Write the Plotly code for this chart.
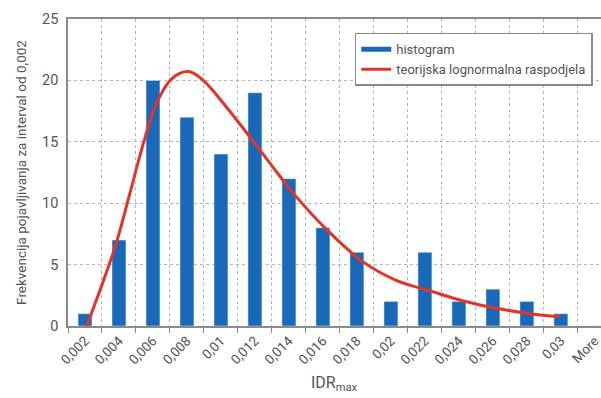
import plotly.graph_objects as go

categories = ["0,002", "0,004", "0,006", "0,008", "0,01", "0,012", "0,014", "0,016",
              "0,018", "0,02", "0,022", "0,024", "0,026", "0,028", "0,03", "More"]
frequencies = [1, 7, 20, 17, 14, 19, 12, 8, 6, 2, 6, 2, 3, 2, 1, 0]

# theoretical lognormal curve (x in category index units)
curve_x = [0.05, 0.88, 1.32, 1.71, 2.1, 2.5, 2.8, 3.09, 3.48, 4.17, 4.85, 5.54,
           6.13, 7.2, 8.19, 9.17, 10.15, 11.13, 12.11, 13.09, 13.97]
curve_y = [0.0, 6.4, 10.8, 14.8, 18.1, 20.0, 20.6, 20.7, 20.0, 17.8, 15.4, 12.9,
           10.8, 7.6, 5.2, 3.7, 2.86, 2.04, 1.44, 1.0, 0.76]

BLUE = "#1a68b8"
RED = "#e3342a"
GRAY = "#8a8a8a"
TXT = "#555555"
FONT = "Roboto"

fig = go.Figure()
fig.add_trace(go.Bar(x=categories, y=frequencies, marker_color=BLUE,
                     showlegend=False, name="histogram"))
# legend proxies
fig.add_trace(go.Scatter(x=[None], y=[None], mode="lines", name="histogram",
                         line=dict(color=BLUE, width=5), xaxis="x2"))
fig.add_trace(go.Scatter(x=curve_x, y=curve_y, mode="lines", name="teorijska lognormalna raspodjela",
                         line=dict(color=RED, width=3, shape="spline", smoothing=1.0),
                         xaxis="x2"))

xr = [-0.5, 15.18]
plot_top, plot_bot = 19, 326
fig.update_layout(
    width=601, height=398,
    margin=dict(l=68, r=0, t=plot_top, b=398 - plot_bot),
    paper_bgcolor="white", plot_bgcolor="white",
    font=dict(family=FONT, size=13, color=TXT),
    bargap=0.59,
    xaxis=dict(type="category", range=xr, tickson="boundaries", tickangle=-45,
               automargin=False,
               showgrid=True, gridcolor="#b5b5b5", griddash="dot", gridwidth=1,
               showline=True, linecolor=GRAY, linewidth=1.5, mirror=True,
               ticks="outside", ticklen=5, tickcolor=GRAY,
               tickfont=dict(size=13.5, color=TXT)),
    xaxis2=dict(overlaying="x", range=xr, visible=False),
    yaxis=dict(range=[0, 25], dtick=5, showgrid=True, gridcolor="#b5b5b5",
               automargin=False,
               griddash="dot", gridwidth=1, showline=True, linecolor=GRAY,
               linewidth=1.5, mirror=True, ticks="", zeroline=False,
               ticklabelstandoff=5,
               tickfont=dict(size=14.5, color=TXT),
               title=dict(text="Frekvencija pojavljivanja za interval od 0,002",
                          font=dict(size=13.5, color=TXT), standoff=12)),
    legend=dict(x=0.538, y=0.955, xanchor="left", yanchor="top",
                bgcolor="white", bordercolor=GRAY, borderwidth=1.5,
                font=dict(size=13, color=TXT), tracegroupgap=0,
                itemwidth=30),
    annotations=[dict(text="IDR<sub>max</sub>", x=0.5, xref="paper", yref="paper",
                      y=(plot_bot - 383) / (plot_bot - plot_top), yanchor="middle",
                      showarrow=False, font=dict(size=16, color=TXT))],
)
fig.write_html("out.html", config={"displayModeBar": False},
               post_script="document.body.style.margin='0';")
